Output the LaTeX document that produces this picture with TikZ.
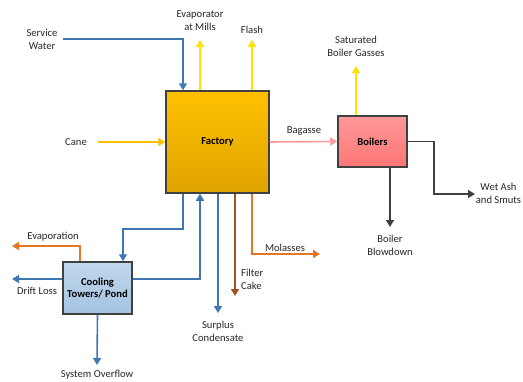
\documentclass[tikz,border=0pt]{standalone}
\usepackage{fontspec}
\setmainfont{Carlito}
\usetikzlibrary{arrows.meta,positioning}

\definecolor{waterblue}{RGB}{62,119,178}
\definecolor{vapouryel}{RGB}{255,226,0}
\definecolor{caneyel}{RGB}{255,192,0}
\definecolor{bagpink}{RGB}{255,155,155}
\definecolor{molorange}{RGB}{228,120,38}
\definecolor{cakebrown}{RGB}{158,84,28}
\definecolor{ashgray}{RGB}{64,64,64}

\tikzset{
  lbl/.style={font=\fontsize{10.6}{12.8}\selectfont, text=black!85, align=center, inner sep=1pt},
  unit/.style={draw=ashgray, line width=1.5pt, font=\fontsize{10.6}{12.8}\selectfont\bfseries,
    text=black, align=center, inner sep=1pt},
  flow/.style={line width=1.6pt, -{Triangle[length=7pt,width=8pt]}},
  line/.style={line width=1.6pt}
}

\begin{document}
\begin{tikzpicture}[x=1pt,y=-1pt]
\useasboundingbox (0,0) rectangle (523,381);

% process units
\node[unit, minimum width=103, minimum height=102, top color=caneyel, bottom color={rgb,255:red,224;green,164;blue,0}] (factory) at (217.5,142) {Factory};
\node[unit, minimum width=69, minimum height=51, top color={rgb,255:red,255;green,152;blue,152}, bottom color={rgb,255:red,255;green,118;blue,118}] (boilers) at (372.5,141.5) {Boilers};
\node[unit, minimum width=69, minimum height=52, top color={rgb,255:red,192;green,216;blue,236}, bottom color={rgb,255:red,164;green,194;blue,224}] (cooling) at (97.5,288) {Cooling\\Towers/ Pond};

% labels
\node[lbl] (servicelbl) at (42,39) {Service\\Water};
\node[lbl] (evaplbl) at (200,21) {Evaporator\\at Mills};
\node[lbl] (flashlbl) at (252,30) {Flash};
\node[lbl] (canelbl) at (76,142) {Cane};
\node[lbl] (bagasselbl) at (304,131) {Bagasse};
\node[lbl] (gasslbl) at (356,46.5) {Saturated\\Boiler Gasses};
\node[lbl] (ashlbl) at (498.5,193.5) {Wet Ash\\and Smuts};
\node[lbl] (blowlbl) at (390,245) {Boiler\\Blowdown};
\node[lbl] (mollbl) at (285,248) {Molasses};
\node[lbl, anchor=west, align=left] (cakelbl) at (240,279.5) {Filter\\Cake};
\node[lbl] (condlbl) at (218,331) {Surplus\\Condensate};
\node[lbl] (evaporationlbl) at (53,237) {Evaporation};
\node[lbl] (driftlbl) at (37,291) {Drift Loss};
\node[lbl] (overflowlbl) at (97,375) {System Overflow};

% free ends
\coordinate (servicein) at (63,39);
\coordinate (evaptip) at (200,40);
\coordinate (flashtip) at (252,40);
\coordinate (canein) at (98,142);
\coordinate (gasstip) at (356,66);
\coordinate (ashtip) at (475,194);
\coordinate (blowtip) at (390,227);
\coordinate (moltip) at (320,254);
\coordinate (caketip) at (235,296);
\coordinate (condtip) at (218,313);
\coordinate (evaporationtip) at (12,246);
\coordinate (drifttip) at (12,279);
\coordinate (overflowtip) at (97,365);

% factory streams
\draw[flow, waterblue] (servicein) -| ([xshift=-34.5]factory.north);
\draw[flow, vapouryel] ([xshift=-17.5]factory.north) -- (evaptip);
\draw[flow, vapouryel] ([xshift=34.5]factory.north) -- (flashtip);
\draw[flow, caneyel] (canein) -- (factory.west);
\draw[flow, bagpink] (factory.east) -- (boilers.west);
\draw[flow, waterblue] ([xshift=-34.5]factory.south) -- ++(0,35) -| ([xshift=25.5]cooling.north);
\draw[flow, waterblue] ([yshift=9]cooling.east) -| ([xshift=-17.5]factory.south);
\draw[flow, waterblue] ([xshift=0.5]factory.south) -- (condtip);
\draw[flow, cakebrown] ([xshift=17.5]factory.south) -- (caketip);
\draw[flow, molorange] ([xshift=34.5]factory.south) |- (moltip);

% boiler streams
\draw[flow, vapouryel] ([xshift=-16.5]boilers.north) -- (gasstip);
\draw[flow, ashgray] (boilers.east) -- ++(26,0) |- (ashtip);
\draw[flow, ashgray] ([xshift=17.5]boilers.south) -- (blowtip);

% cooling tower streams
\draw[flow, molorange] ([xshift=-17.5]cooling.north) |- (evaporationtip);
\draw[flow, waterblue] ([yshift=9]cooling.west) -- (drifttip);
\draw[flow, waterblue] (cooling.south) -- (overflowtip);
\end{tikzpicture}
\end{document}
